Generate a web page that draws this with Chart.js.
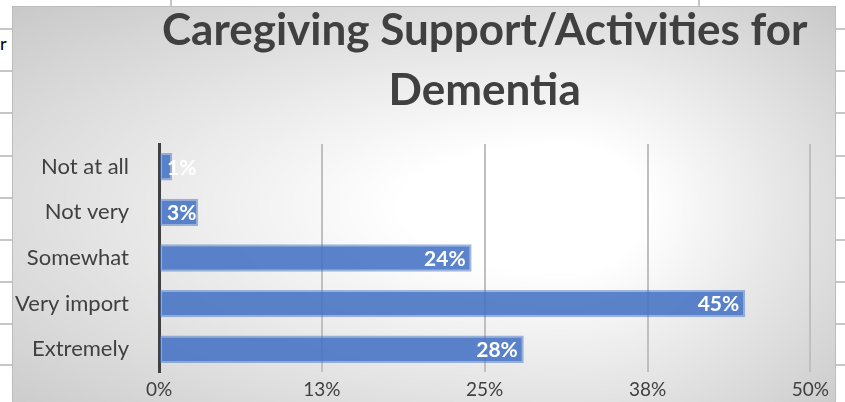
<!DOCTYPE html>
<html>
<head>
<meta charset="utf-8">
<script src="https://cdn.jsdelivr.net/npm/chart.js@4.4.1/dist/chart.umd.min.js"></script>
<style>
  html, body { margin: 0; padding: 0; background: #fff; width: 845px; height: 402px; overflow: hidden; position: relative; font-family: Lato, sans-serif; }
  .hl { position: absolute; height: 2px; background: #c6c6c6; }
  .vl { position: absolute; width: 2px; background: #c6c6c6; }
  #stray { position: absolute; left: 0; top: 32px; font: 18px Lato, sans-serif; color: #000; }
  #panel { position: absolute; left: 12px; top: 6px; width: 822px; height: 400px; border: 1px solid #bcbcbc; }
  #chart { display: block; }
</style>
</head>
<body>
<div id="sheet"></div>
<div id="stray">r</div>
<div id="panel"><canvas id="chart" width="822" height="395"></canvas></div>
<script>
// data
const titleLines = ["Caregiving Support/Activities for", "Dementia"];
const categories = ["Not at all", "Not very", "Somewhat", "Very import", "Extremely"];
const shares = [0.01, 0.03, 0.24, 0.45, 0.28];
const shareLabels = ["1%", "3%", "24%", "45%", "28%"];
const xTickLabels = ["0%", "13%", "25%", "38%", "50%"];

// spreadsheet grid peeking out around the chart
const sheetRows = [28, 70, 112, 155, 197, 239, 281, 323, 364];
const sheet = document.getElementById("sheet");
sheetRows.forEach(y => {
    sheet.insertAdjacentHTML("beforeend",
        `<div class="hl" style="left:0;top:${y}px;width:13px"></div>` +
        `<div class="hl" style="left:835px;top:${y}px;width:10px"></div>`);
});
[170, 698].forEach(x => {
    sheet.insertAdjacentHTML("beforeend", `<div class="vl" style="left:${x}px;top:0;height:7px"></div>`);
});

// Excel-like path gradient: white near the centre, grey towards every edge
let bgImage = null;
function makeBackground(w, h) {
    const c = document.createElement("canvas");
    c.width = w; c.height = h;
    const g = c.getContext("2d");
    const img = g.createImageData(w, h);
    const cx = 552, cy = 198, fullH = 420;
    for (let y = 0; y < h; y++) {
        for (let x = 0; x < w; x++) {
            const dx = x - cx, dy = y - cy;
            const rx = dx < 0 ? cx : (w - cx);
            const ry = dy < 0 ? cy : (fullH - cy);
            const t = Math.sqrt((dx / rx) ** 2 + (dy / ry) ** 2);
            const k = Math.min(1, Math.max(0, (t - 0.3) / 1.15));
            const v = Math.round(255 - 56 * k);
            const i = (y * w + x) * 4;
            img.data[i] = v; img.data[i + 1] = v; img.data[i + 2] = v; img.data[i + 3] = 255;
        }
    }
    g.putImageData(img, 0, 0);
    return c;
}

const backgroundPlugin = {
    id: "panelBackground",
    beforeDraw(chart) {
        if (!bgImage) bgImage = makeBackground(chart.width, chart.height);
        chart.ctx.drawImage(bgImage, 0, 0);
    }
};

const titlePlugin = {
    id: "excelTitle",
    afterDraw(chart) {
        const { ctx, chartArea } = chart;
        const cx = (chartArea.left + chartArea.right) / 2;
        ctx.save();
        ctx.font = "bold 44px Lato";
        ctx.fillStyle = "#404040";
        ctx.textAlign = "center";
        ctx.textBaseline = "alphabetic";
        titleLines.forEach((line, i) => ctx.fillText(line, cx, 38 + i * 60));
        ctx.restore();
    }
};

// value labels at the inside end of each bar
const barLabelPlugin = {
    id: "barLabels",
    afterDatasetsDraw(chart) {
        const { ctx } = chart;
        const meta = chart.getDatasetMeta(0);
        ctx.save();
        ctx.font = "bold 21px Lato";
        ctx.fillStyle = "#ffffff";
        ctx.textAlign = "right";
        ctx.textBaseline = "middle";
        meta.data.forEach((bar, i) => {
            const txt = shareLabels[i];
            const w = ctx.measureText(txt).width;
            const right = Math.max(bar.x - 6, bar.base + 7 + w);
            ctx.fillText(txt, right, bar.y + 1);
        });
        ctx.restore();
    }
};

Chart.defaults.font.family = "Lato, sans-serif";
Chart.defaults.color = "#404040";

new Chart(document.getElementById("chart"), {
    type: "bar",
    data: {
        labels: categories,
        datasets: [{
            data: shares,
            backgroundColor: "rgba(68, 114, 196, 0.88)",
            borderColor: "rgba(68, 114, 196, 0.5)",
            borderWidth: 2,
            borderSkipped: false,
            categoryPercentage: 1,
            barPercentage: 0.6
        }]
    },
    options: {
        indexAxis: "y",
        responsive: false,
        animation: false,
        layout: { padding: { top: 137, right: 18, left: 0, bottom: 0 } },
        plugins: {
            legend: { display: false },
            tooltip: { enabled: false },
            title: { display: false }
        },
        scales: {
            x: {
                min: 0,
                max: 0.5,
                afterFit(scale) { scale.height = 30; },
                ticks: {
                    stepSize: 0.125,
                    padding: 6,
                    font: { size: 19 },
                    color: "#404040",
                    callback: (v, i) => xTickLabels[i]
                },
                grid: {
                    color: "#bfbfbf",
                    lineWidth: 2,
                    drawTicks: false
                },
                border: { display: false }
            },
            y: {
                afterFit(scale) {
                    scale.width = 146;
                    // the big label gap shouldn't eat vertical room
                    scale.paddingTop = 0;
                    scale.paddingBottom = 0;
                },
                ticks: {
                    padding: 30,
                    font: { size: 22 },
                    color: "#404040"
                },
                grid: { display: false, drawTicks: false },
                border: { display: true, color: "#404040", width: 3 }
            }
        }
    },
    plugins: [backgroundPlugin, titlePlugin, barLabelPlugin]
});
</script>
</body>
</html>
